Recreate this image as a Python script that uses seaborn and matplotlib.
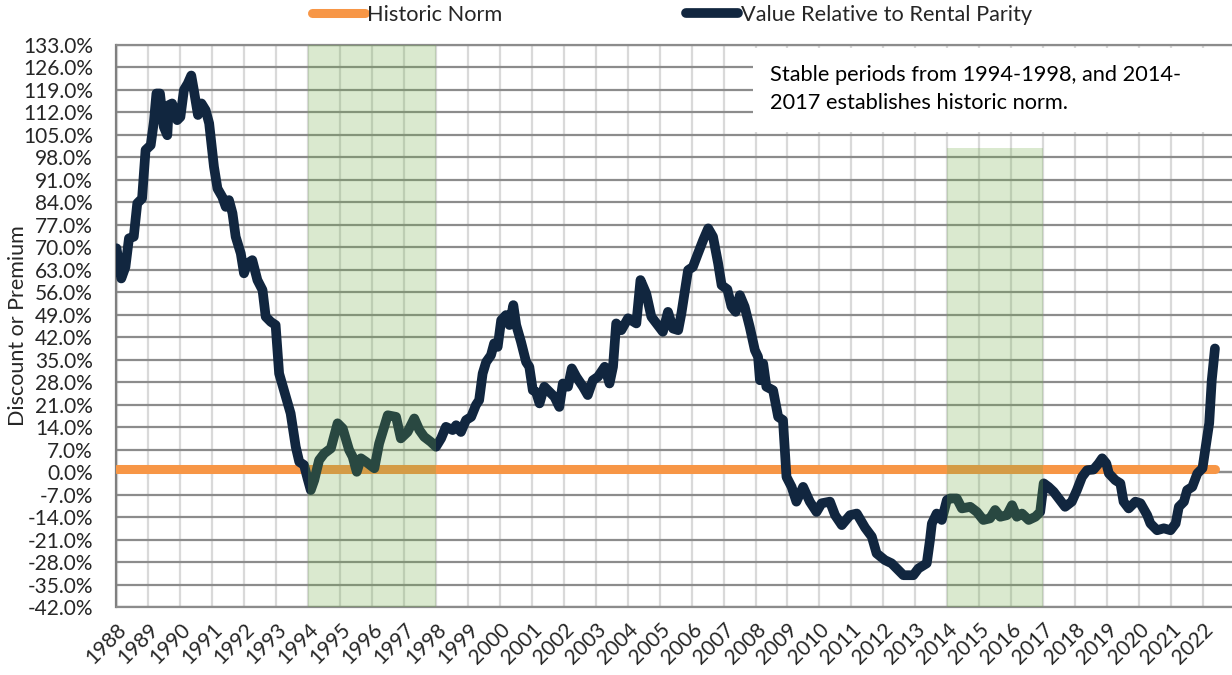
import pandas as pd
import seaborn as sns
import matplotlib.pyplot as plt
from matplotlib.patches import Rectangle

# Value relative to rental parity (%)
years = [
    1988.00, 1988.15, 1988.28, 1988.39, 1988.54, 1988.65, 1988.80, 1988.91,
    1989.07, 1989.17, 1989.25, 1989.36, 1989.48, 1989.59, 1989.64, 1989.74,
    1989.90, 1990.00, 1990.11, 1990.23, 1990.34, 1990.42, 1990.55, 1990.66,
    1990.79, 1990.90, 1991.05, 1991.16, 1991.31, 1991.42, 1991.52, 1991.63,
    1991.73, 1991.89, 1991.99, 1992.10, 1992.25, 1992.41, 1992.57, 1992.67,
    1992.83, 1992.98, 1993.09, 1993.30, 1993.45, 1993.61, 1993.72, 1993.87,
    1993.98, 1994.08, 1994.19, 1994.34, 1994.50, 1994.71, 1994.92, 1995.08,
    1995.28, 1995.39, 1995.52, 1995.65, 1995.81, 1996.07, 1996.22, 1996.49,
    1996.75, 1996.90, 1997.11, 1997.32, 1997.48, 1997.63, 1997.84, 1998.00,
    1998.16, 1998.31, 1998.52, 1998.63, 1998.78, 1998.94, 1999.10, 1999.25,
    1999.35, 1999.46, 1999.57, 1999.72, 1999.82, 1999.93, 2000.04, 2000.19,
    2000.30, 2000.42, 2000.51, 2000.66, 2000.82, 2000.92, 2001.03, 2001.13,
    2001.24, 2001.39, 2001.55, 2001.71, 2001.86, 2001.97, 2002.13, 2002.25,
    2002.39, 2002.60, 2002.75, 2002.91, 2003.07, 2003.28, 2003.43, 2003.54,
    2003.64, 2003.80, 2004.01, 2004.27, 2004.40, 2004.58, 2004.74, 2004.90,
    2005.10, 2005.26, 2005.42, 2005.58, 2005.68, 2005.89, 2006.04, 2006.20,
    2006.36, 2006.52, 2006.67, 2006.83, 2006.94, 2007.12, 2007.25, 2007.38,
    2007.51, 2007.66, 2007.82, 2007.98, 2008.08, 2008.14, 2008.24, 2008.34,
    2008.55, 2008.71, 2008.86, 2008.97, 2009.13, 2009.28, 2009.49, 2009.70,
    2009.91, 2010.07, 2010.33, 2010.49, 2010.70, 2010.96, 2011.17, 2011.43,
    2011.64, 2011.79, 2012.05, 2012.26, 2012.42, 2012.63, 2012.94, 2013.10,
    2013.36, 2013.46, 2013.52, 2013.67, 2013.83, 2013.99, 2014.09, 2014.30,
    2014.46, 2014.72, 2014.93, 2015.13, 2015.34, 2015.50, 2015.66, 2015.87,
    2016.03, 2016.18, 2016.34, 2016.55, 2016.76, 2016.91, 2017.02, 2017.17,
    2017.33, 2017.49, 2017.69, 2017.90, 2018.06, 2018.22, 2018.38, 2018.58,
    2018.74, 2018.85, 2018.98, 2019.06, 2019.26, 2019.42, 2019.52, 2019.68,
    2019.89, 2020.05, 2020.26, 2020.36, 2020.57, 2020.78, 2020.99, 2021.15,
    2021.25, 2021.41, 2021.51, 2021.67, 2021.83, 2021.99, 2022.09, 2022.20,
    2022.28, 2022.38,
]
values = [
    69.7, 60.3, 63.9, 72.8, 73.3, 83.7, 85.2, 100.3,
    101.8, 109.1, 117.9, 117.9, 107.5, 104.9, 114.3, 114.8,
    109.6, 110.6, 119.0, 121.0, 123.5, 119.0, 111.2, 114.8,
    112.7, 108.6, 95.1, 88.3, 85.7, 82.6, 84.7, 80.6,
    73.3, 68.1, 61.9, 65.0, 66.0, 59.8, 56.7, 48.4,
    46.8, 45.8, 30.7, 23.5, 18.3, 7.9, 3.2, 2.2,
    -2.0, -5.6, -2.5, 3.7, 5.8, 7.4, 15.2, 13.6,
    6.9, 4.8, 0.1, 4.3, 3.2, 1.2, 8.9, 17.7,
    17.2, 10.5, 12.5, 16.7, 13.1, 11.0, 9.4, 7.9,
    10.5, 14.1, 13.1, 14.6, 12.5, 16.2, 17.2, 20.9,
    22.4, 30.7, 34.3, 36.4, 40.1, 39.0, 47.3, 48.9,
    45.8, 52.0, 45.8, 40.6, 34.3, 32.8, 25.5, 25.0,
    21.4, 26.6, 25.0, 23.4, 20.3, 27.6, 26.6, 32.3,
    29.7, 26.6, 24.0, 28.6, 29.7, 32.8, 27.6, 32.8,
    46.3, 44.2, 47.9, 46.3, 59.8, 55.6, 48.4, 46.3,
    43.7, 49.9, 44.7, 44.2, 49.4, 62.9, 63.9, 68.1,
    72.2, 75.9, 73.3, 65.0, 58.2, 56.9, 51.5, 49.9,
    55.1, 51.5, 45.2, 38.0, 35.9, 28.6, 33.8, 26.6,
    25.5, 17.2, 16.2, -1.5, -4.6, -9.2, -4.6, -9.2,
    -12.4, -9.7, -9.2, -13.4, -16.5, -13.4, -12.9, -17.3,
    -20.1, -25.3, -27.4, -28.4, -30.0, -32.1, -32.1, -30.0,
    -28.4, -21.2, -16.0, -12.9, -14.9, -8.7, -8.2, -8.2,
    -11.3, -10.8, -12.4, -14.9, -14.4, -11.8, -13.9, -13.4,
    -10.3, -13.9, -12.9, -14.9, -13.9, -12.4, -3.5, -4.6,
    -6.1, -8.2, -10.8, -9.2, -5.6, -1.5, 0.6, 0.8,
    2.7, 4.3, 2.7, -0.4, -2.5, -3.5, -9.2, -11.3,
    -9.2, -9.7, -13.4, -16.0, -18.1, -17.5, -18.1, -16.0,
    -10.8, -9.2, -5.6, -4.6, -0.4, 1.2, 7.9, 15.2,
    28.6, 38.5,
]
norm_value = 1.1

# stable periods: start year, end year, top of shading (%)
period_starts = [1994, 2014]
period_ends = [1998, 2017]
period_tops = [133, 101]

tick_years = list(range(1988, 2023))
y_ticks = list(range(-42, 134, 7))
y_min, y_max = -42, 133

df = pd.DataFrame({"Year": years, "Value": values})
norm_df = pd.DataFrame({"Year": [years[0], years[-1]], "Value": [norm_value, norm_value]})

sns.set_style("white")
plt.rcParams["font.family"] = ["Lato", "DejaVu Sans"]

W, H = 1232, 675
fig = plt.figure(figsize=(W / 100, H / 100), dpi=100)
left, right, top, bottom = 116.5, 1232, 45, 607
ax = fig.add_axes([left / W, 1 - bottom / H, (right - left) / W, (bottom - top) / H])

navy = "#11263f"
orange = "#f79646"
grey_dark = "#8c8c8c"
grey_light = "#d9d9d9"

sns.lineplot(data=norm_df, x="Year", y="Value", ax=ax, color=orange, lw=6.5,
             solid_capstyle="round", label="Historic Norm", zorder=3)
sns.lineplot(data=df, x="Year", y="Value", ax=ax, color=navy, lw=7, sort=False,
             estimator=None, solid_capstyle="round", solid_joinstyle="round",
             label="Value Relative to Rental Parity", zorder=4)

for x0, x1, t in zip(period_starts, period_ends, period_tops):
    ax.fill_between([x0, x1], y_min, t, color="#70ad47", alpha=0.26, lw=0, zorder=5)

ax.set_xlim(1988, 1988 + (right - left) / 31.95)
ax.set_ylim(y_min, y_max)
ax.set_xticks(tick_years)
ax.set_xticklabels([str(y) for y in tick_years], rotation=45, ha="right",
                   rotation_mode="anchor", fontsize=15)
ax.set_yticks(y_ticks)
ax.set_yticklabels([f"{v:.1f}%" for v in y_ticks], fontsize=15)
ax.tick_params(axis="x", length=0, pad=9)
ax.tick_params(axis="y", length=6, width=1.5, color=grey_dark, pad=11)

ax.set_axisbelow(True)
ax.grid(axis="y", color=grey_dark, lw=1.6)
ax.grid(axis="x", color=grey_light, lw=1.6)
ax.spines["right"].set_visible(False)
ax.spines["left"].set_color("#7f7f7f")
ax.spines["left"].set_linewidth(1.6)
for s in ["top", "bottom"]:
    ax.spines[s].set_color(grey_dark)
    ax.spines[s].set_linewidth(1.6)

# category axis crossing at 0% with small tick marks
zero_axis = ax.secondary_xaxis((0 - y_min) / (y_max - y_min))
zero_axis.set_xticks(tick_years)
zero_axis.set_xticklabels([])
zero_axis.tick_params(length=5, width=1.5, color=grey_dark, direction="out")
zero_axis.spines["bottom"].set_color(grey_dark)
zero_axis.spines["bottom"].set_linewidth(1.6)

ax.set_xlabel("")
ax.set_ylabel("Discount or Premium", fontsize=15.5)
ax.yaxis.set_label_coords((28 - left) / (right - left), 0.5)

# annotation box
ax.add_patch(Rectangle(((753 - left) / (right - left), (bottom - 132) / (bottom - top)),
                       (1232 - 753) / (right - left), 84 / (bottom - top),
                       transform=ax.transAxes, facecolor="white", edgecolor="none", zorder=1.5))
ax.text((770 - left) / (right - left), (bottom - 65) / (bottom - top),
        "Stable periods from 1994-1998, and 2014-\n2017 establishes historic norm.",
        transform=ax.transAxes, ha="left", va="top", fontsize=15.7, linespacing=1.5,
        color="#000000", zorder=6)

handles, labels = ax.get_legend_handles_labels()
ax.get_legend().remove()
fig.legend(handles, labels, loc="center", bbox_to_anchor=(672 / W, 1 - 15 / H), ncol=2,
           frameon=False, handlelength=2.4, handletextpad=0.12, columnspacing=8.4,
           fontsize=15.7)

fig.savefig("out.png", dpi=100)
